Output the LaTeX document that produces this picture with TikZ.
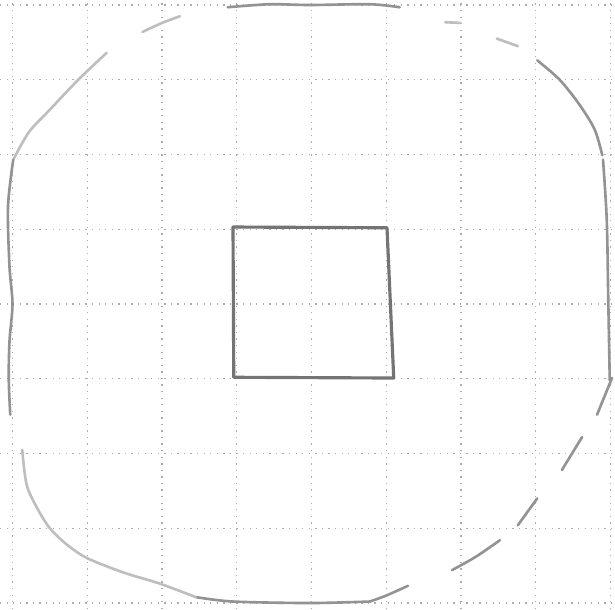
\documentclass[tikz,border=0pt]{standalone}
\usepackage{tikz}
\usepackage{xcolor}
\definecolor{pencil}{HTML}{939393}
\definecolor{pencildark}{HTML}{747474}
\definecolor{paperline}{HTML}{ACACAC}

\begin{document}
\begin{tikzpicture}[
  gridline/.style={paperline, line width=0.5pt, dotted},
  sketch/.style={pencil, line width=1pt, line cap=round, line join=round},
  faint/.style={sketch, draw=pencil!60},
  firm/.style={sketch, draw=pencildark, line width=1.2pt}
]
  \useasboundingbox (-0.167,-0.08) rectangle (8.06,8.067);
  \fill[white] (-0.167,-0.08) rectangle (8.06,8.067);

  % squared paper
  \draw[gridline, step=1] (-0.167,-0.08) grid (8.06,8.067);

  % outer rounded outline, drawn in broken strokes
  \draw[faint] plot[smooth] coordinates {(0.01,5.93) (0.22,6.3) (0.50,6.60) (0.88,7.0) (1.26,7.36)};
  \draw[faint] plot[smooth] coordinates {(1.74,7.64) (2.0,7.76) (2.24,7.85)};
  \draw[sketch] plot[smooth] coordinates {(2.88,7.97) (3.44,8.01) (3.98,8.0) (4.78,8.01) (5.18,7.97)};
  \draw[faint] (5.79,7.77) -- (5.99,7.76);
  \draw[faint] (6.48,7.55) -- (6.76,7.45);
  \draw[sketch] plot[smooth] coordinates {(7.02,7.26) (7.32,7.0) (7.59,6.66) (7.79,6.33) (7.89,5.99)};
  \draw[sketch] plot[smooth] coordinates {(7.90,5.93) (7.95,5.12) (7.97,4.06) (7.99,2.98)};
  \draw[sketch] (8.02,3.01) -- (7.82,2.52);
  \draw[sketch] (7.62,2.22) -- (7.35,1.78);
  \draw[sketch] (7.02,1.40) -- (6.76,1.04);
  \draw[sketch] plot[smooth] coordinates {(6.52,0.84) (6.2,0.62) (5.88,0.44)};
  \draw[sketch] plot[smooth] coordinates {(5.29,0.23) (5.0,0.1) (4.78,0.02)};
  \draw[sketch] plot[smooth] coordinates {(4.78,0.02) (3.98,0.0) (2.95,0.02) (2.45,0.08)};
  \draw[faint] plot[smooth] coordinates {(2.45,0.08) (1.97,0.26) (1.48,0.41) (1.0,0.60) (0.73,0.78) (0.5,1.0) (0.33,1.27) (0.19,1.58) (0.13,2.05)};
  \draw[sketch] plot[smooth] coordinates {(0.01,5.93) (-0.06,5.3) (-0.04,4.5) (0.0,4.0) (-0.04,3.5) (-0.05,3.0) (-0.03,2.52)};

  % inner square
  \draw[firm] (2.95,5.03) -- (5.01,5.02) -- (5.10,3.01) -- (2.96,3.02) -- cycle;
\end{tikzpicture}
\end{document}
